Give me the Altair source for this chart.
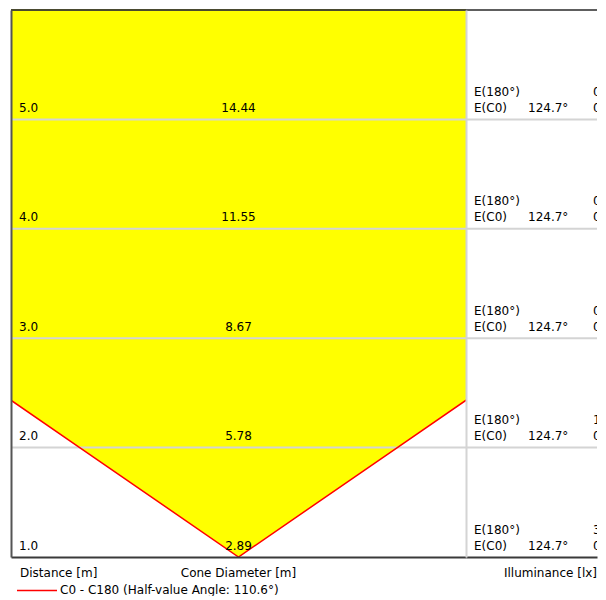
import altair as alt
import pandas as pd

# ---- data ----
distances = [1.0, 2.0, 3.0, 4.0, 5.0]
diameters = [2.89, 5.78, 8.67, 11.55, 14.44]
e180_values = ["3.58", "1.12", "0.52", "0.30", "0.19"]
ec0_values = ["0.62", "0.19", "0.09", "0.05", "0.03"]
c0_angle = "124.7°"
series_name = "C0 - C180 (Half-value Angle: 110.6°)"
grid_levels = [1, 2, 3, 4]

XMAX = 2.07      # half width of the cone panel, metres
YMAX = 5.0
FONT = "DejaVu Sans"
FS = 12
TXT = "#000000"

rows = pd.DataFrame({
    "distance": distances,
    "diameter": diameters,
    "e180": e180_values,
    "ec0": ec0_values,
})
rows["base"] = rows["distance"] - 1
rows["label"] = [f"{d:.1f}" for d in distances]
rows["diam_label"] = [f"{v:.2f}" for v in diameters]
rows["angle"] = c0_angle

# cone outline: apex at distance 0, half diameter at each distance
cx = [-v / 2 for v in reversed(diameters)] + [0.0] + [v / 2 for v in diameters]
cy = list(reversed(distances)) + [0.0] + distances
cone = pd.DataFrame({"x": cx, "y": cy, "series": series_name})
grid = pd.DataFrame({"level": grid_levels})

W_LEFT, W_RIGHT, H = 455, 131, 547
COL1, COL2, COL3 = 8, 62, 127

ax_left_x = alt.Axis(title=None, labels=False, ticks=False, grid=False,
                     domainColor="#3a3a3a", domainWidth=2, zindex=1)
ax_left_y = alt.Axis(title=None, labels=False, ticks=False, grid=False,
                     domainColor="#555555", domainWidth=2, zindex=1)
sx_left = alt.Scale(domain=[-XMAX, XMAX], nice=False, zero=False)
sy = alt.Scale(domain=[0, YMAX], nice=False, zero=False)

X_L = lambda f: alt.X(f, scale=sx_left, axis=ax_left_x)
Y_ = lambda f, ax: alt.Y(f, scale=sy, axis=ax)

area = alt.Chart(cone).mark_area(color="#FFFF00", clip=True, opacity=1).encode(
    x=X_L("x:Q"), y=Y_("y:Q", ax_left_y), y2=alt.datum(YMAX)
)
grid_l = alt.Chart(grid).mark_rule(color="#d4d4d4", strokeWidth=2).encode(
    y=Y_("level:Q", ax_left_y)
)
top_l = alt.Chart(grid).mark_rule(color="#4a4a30", strokeWidth=2, opacity=0.85).encode(
    y=alt.datum(YMAX)
)
line = alt.Chart(cone).mark_line(color="#FF0000", strokeWidth=1.5, clip=True).encode(
    x=X_L("x:Q"), y=Y_("y:Q", ax_left_y)
)
dist_lbl = alt.Chart(rows).mark_text(
    align="left", baseline="alphabetic", dx=8, dy=-7.5, font=FONT, fontSize=FS, color=TXT
).encode(x=alt.datum(-XMAX), y=Y_("base:Q", ax_left_y), text="label:N")
diam_lbl = alt.Chart(rows).mark_text(
    align="center", baseline="alphabetic", dy=-7.5, font=FONT, fontSize=FS, color=TXT
).encode(x=alt.datum(0), y=Y_("base:Q", ax_left_y), text="diam_label:N")

foot = pd.DataFrame({"t": ["Distance [m]", "Cone Diameter [m]"]})
t_dist = alt.Chart(foot).transform_filter("datum.t == 'Distance [m]'").mark_text(
    align="left", baseline="alphabetic", dx=9, dy=20, font=FONT, fontSize=FS, color=TXT
).encode(x=alt.datum(-XMAX), y=alt.datum(0), text="t:N")
t_cone = alt.Chart(foot).transform_filter("datum.t == 'Cone Diameter [m]'").mark_text(
    align="center", baseline="alphabetic", dy=20, font=FONT, fontSize=FS, color=TXT
).encode(x=alt.datum(0), y=alt.datum(0), text="t:N")

leg = pd.DataFrame({"series": [series_name]})
leg_line = alt.Chart(leg).mark_rule(color="#FF0000", strokeWidth=1.5).encode(
    x=alt.value(6), x2=alt.value(46), y=alt.value(H + 33.5)
)
leg_text = alt.Chart(leg).mark_text(
    align="left", baseline="alphabetic", font=FONT, fontSize=FS, color=TXT
).encode(x=alt.value(49), y=alt.value(H + 37), text="series:N")

left = alt.layer(
    area, grid_l, line, top_l, dist_lbl, diam_lbl, t_dist, t_cone, leg_line, leg_text
).properties(width=W_LEFT, height=H)

# ---- right panel ----
sx_right = alt.Scale(domain=[0, W_RIGHT], nice=False, zero=False)
ax_right_x = alt.Axis(title=None, labels=False, ticks=False, grid=False,
                      domainColor="#3a3a3a", domainWidth=2, zindex=1)
ax_right_y = alt.Axis(title=None, labels=False, ticks=False, grid=False,
                      domainColor="#d4d4d4", domainWidth=2, zindex=1)
XR = alt.X("c:Q", scale=sx_right, axis=ax_right_x)

grid_r = alt.Chart(grid).mark_rule(color="#d4d4d4", strokeWidth=2).encode(
    y=Y_("level:Q", ax_right_y)
)
top_r = alt.Chart(grid).mark_rule(color="#5e5e5e", strokeWidth=2).encode(
    y=alt.datum(YMAX)
)
base_text = dict(baseline="alphabetic", font=FONT, fontSize=FS, color=TXT, clip=True, align="left")
r_e180 = alt.Chart(rows).transform_calculate(t="'E(180°)'", c=str(COL1)).mark_text(
    dy=-23.5, **base_text).encode(x=XR, y=Y_("base:Q", ax_right_y), text="t:N")
r_ec0 = alt.Chart(rows).transform_calculate(t="'E(C0)'", c=str(COL1)).mark_text(
    dy=-7.5, **base_text).encode(x=XR, y=Y_("base:Q", ax_right_y), text="t:N")
r_ang = alt.Chart(rows).transform_calculate(c=str(COL2)).mark_text(
    dy=-7.5, **base_text).encode(x=XR, y=Y_("base:Q", ax_right_y), text="angle:N")
r_v180 = alt.Chart(rows).transform_calculate(c=str(COL3)).mark_text(
    dy=-23.5, **base_text).encode(x=XR, y=Y_("base:Q", ax_right_y), text="e180:N")
r_vc0 = alt.Chart(rows).transform_calculate(c=str(COL3)).mark_text(
    dy=-7.5, **base_text).encode(x=XR, y=Y_("base:Q", ax_right_y), text="ec0:N")
t_ill = alt.Chart(pd.DataFrame({"t": ["Illuminance [lx]"]})).mark_text(
    align="right", baseline="alphabetic", dy=20, font=FONT, fontSize=FS, color=TXT
).encode(x=alt.datum(W_RIGHT), y=alt.datum(0), text="t:N")

right = alt.layer(
    grid_r, top_r, r_e180, r_ec0, r_ang, r_v180, r_vc0, t_ill
).properties(width=W_RIGHT, height=H)

chart = alt.hconcat(left, right, spacing=0, bounds="flush").properties(
    padding={"left": 2, "top": 1, "right": 0, "bottom": 0}
).configure_view(stroke=None).resolve_scale(x="independent")

chart.save("out.html", embed_options={"renderer": "svg", "actions": False})
